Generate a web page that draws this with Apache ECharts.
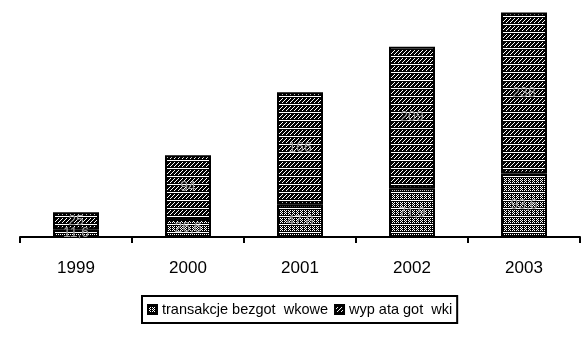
<!DOCTYPE html>
<html><head><meta charset="utf-8">
<script src="https://cdn.jsdelivr.net/npm/echarts@6/dist/echarts.min.js"></script>
<style>html,body{margin:0;padding:0;background:#fff}#c{width:587px;height:360px}</style>
</head><body><div id="c"></div>
<script>
const categories = ['1999','2000','2001','2002','2003'];
const seriesNames = ['transakcje bezgot  wkowe','wyp ata got  wki'];
const cashless = [11.6, 26.6, 47.8, 71.9, 93.6];
const withdrawals = [25, 94, 166, 209, 238];

function makeDots(){
  const c=document.createElement('canvas');c.width=8;c.height=8;
  const g=c.getContext('2d');g.fillStyle='#000';g.fillRect(0,0,8,8);
  g.fillStyle='#fff';
  g.fillRect(0,0,8,1);
  for(let y=2;y<7;y++)for(let x=0;x<8;x++){ if((x+y)%2===0 && (y%2===0 || x%4<2)) g.fillRect(x,y,1,1); }
  return c;
}
function makeHatch(){
  const c=document.createElement('canvas');c.width=8;c.height=8;
  const g=c.getContext('2d');g.fillStyle='#000';g.fillRect(0,0,8,8);
  g.fillStyle='#fff';
  g.fillRect(0,0,8,1);
  for(let y=2;y<7;y++)for(let x=0;x<8;x++){ if((x+y)%4===0) g.fillRect(x,y,1,1); }
  return c;
}
const dotPat={image:makeDots(),repeat:'repeat'};
const hatchPat={image:makeHatch(),repeat:'repeat'};
const font='"Liberation Sans", Arial, sans-serif';
const chart=echarts.init(document.getElementById('c'),null,{renderer:'canvas'});
const lbl={show:true,position:'inside',color:'#a0a0a0',fontSize:14,fontFamily:font,
  formatter:p=>String(p.value).replace('.',',')};
chart.setOption({
  animation:false,
  grid:{left:20,right:7,top:0,bottom:123},
  xAxis:{type:'category',data:categories,
    axisLine:{lineStyle:{color:'#000',width:2}},
    axisTick:{show:true,length:6,lineStyle:{color:'#000',width:2}},
    axisLabel:{color:'#000',fontSize:17,fontFamily:font,margin:23}},
  yAxis:{type:'value',min:0,max:350,show:false,splitLine:{show:false}},
  legend:{data:seriesNames,left:142,top:296,
    itemWidth:9,itemHeight:9,itemGap:6,icon:'rect',
    borderColor:'#000',borderWidth:2,padding:[6,5,6,5],
    textStyle:{color:'#000',fontSize:14.5,fontFamily:font}},
  series:[
    {name:seriesNames[0],type:'bar',stack:'s',barWidth:46,data:cashless,
     itemStyle:{color:dotPat,borderColor:'#000',borderWidth:2},label:lbl},
    {name:seriesNames[1],type:'bar',stack:'s',barWidth:46,data:withdrawals,
     itemStyle:{color:hatchPat,borderColor:'#000',borderWidth:2},label:lbl}
  ]
});
</script></body></html>
